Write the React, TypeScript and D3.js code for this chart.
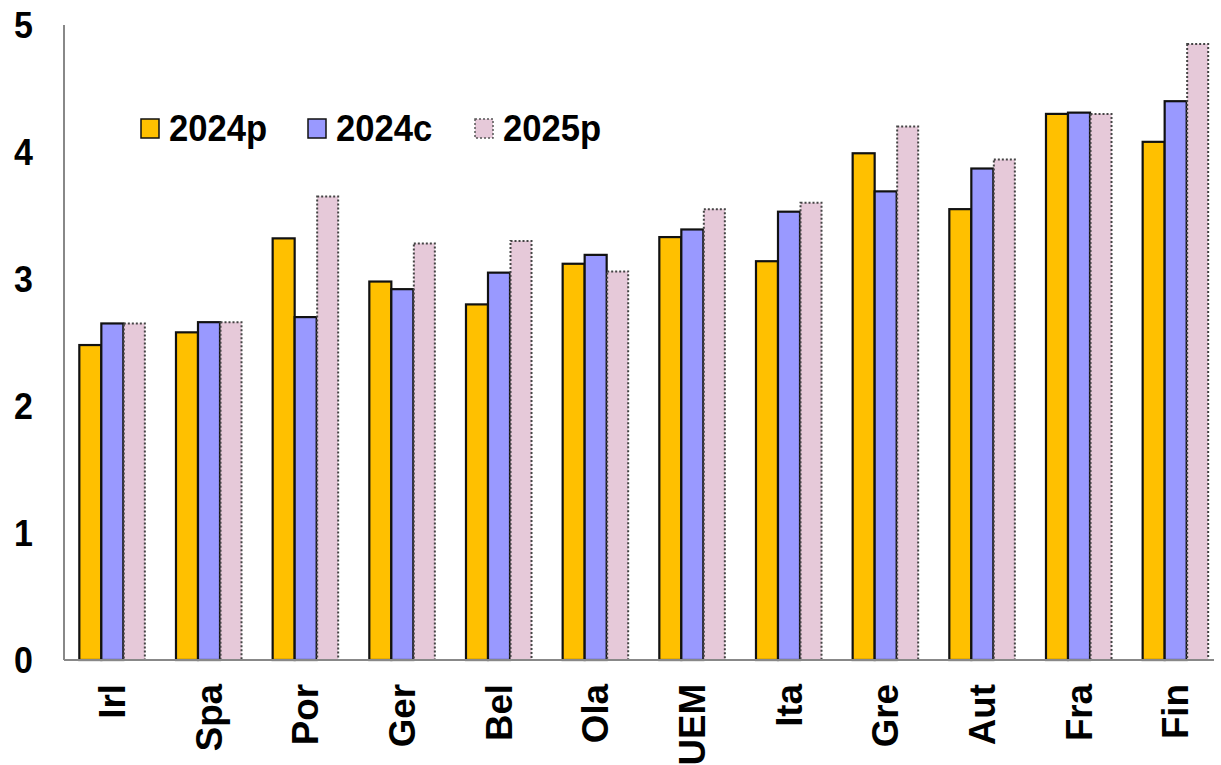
import React from "react";
import * as d3 from "d3";

const categories = ["Irl", "Spa", "Por", "Ger", "Bel", "Ola", "UEM", "Ita", "Gre", "Aut", "Fra", "Fin"];
const s2024p = [2.48, 2.58, 3.32, 2.98, 2.80, 3.12, 3.33, 3.14, 3.99, 3.55, 4.30, 4.08];
const s2024c = [2.65, 2.66, 2.70, 2.92, 3.05, 3.19, 3.39, 3.53, 3.69, 3.87, 4.31, 4.40];
const s2025p = [2.65, 2.66, 3.65, 3.28, 3.30, 3.06, 3.55, 3.60, 4.20, 3.94, 4.30, 4.85];
const seriesNames = ["2024p", "2024c", "2025p"];
const yTicks = [0, 1, 2, 3, 4, 5];

const fills = ["#FFC000", "#9999FF", "#E6C9D9"];

export default function App() {
  const W = 1221, H = 765;
  const x0 = 64, x1 = 1224, yBase = 660, yTop = 25;
  const series = [s2024p, s2024c, s2025p];
  const x = d3.scaleBand<string>().domain(categories).range([x0, x1]).paddingInner(0.317).paddingOuter(0.1585);
  const xi = d3.scaleBand<string>().domain(seriesNames).range([0, x.bandwidth()]);
  const y = d3.scaleLinear().domain([0, 5]).range([yBase, yTop]);
  const font = "'Liberation Sans', Arial, sans-serif";

  const legendX = [141, 308, 475];

  return (
    <svg width={W} height={H} style={{ position: "absolute", left: 0, top: 0 }}>
      <rect x={0} y={0} width={W} height={H} fill="#fff" />
      {series.map((vals, si) =>
        categories.map((c, ci) => {
          const bx = (x(c) as number) + (xi(seriesNames[si]) as number);
          const by = y(vals[ci]);
          const h = yBase - by;
          return si < 2 ? (
            <rect key={`${si}-${ci}`} x={bx} y={by} width={xi.bandwidth()} height={h}
              fill={fills[si]} stroke="#111" strokeWidth={2.2} />
          ) : (
            <rect key={`${si}-${ci}`} x={bx + 0.5} y={by} width={xi.bandwidth() - 1} height={h}
              fill={fills[si]} stroke="#444" strokeWidth={2} strokeDasharray="2,2" />
          );
        })
      )}
      <line x1={x0} x2={x0} y1={yTop} y2={yBase} stroke="#888" strokeWidth={2} />
      <line x1={x0} x2={1214} y1={yBase} y2={yBase} stroke="#888" strokeWidth={2} />
      {yTicks.map((t) => (
        <text key={t} transform={`translate(33,${y(t)}) scale(1,1.08)`} dy="0.35em" textAnchor="end" fontFamily={font}
          fontWeight="bold" fontSize={34} fill="#000">{t}</text>
      ))}
      {categories.map((c) => {
        const cx = (x(c) as number) + x.bandwidth() / 2;
        return (
          <text key={c} transform={`translate(${cx + 12.5},684) rotate(-90) scale(1.08,1.1)`} textAnchor="end"
            fontFamily={font} fontWeight="bold" fontSize={34} fill="#000">{c}</text>
        );
      })}
      {seriesNames.map((n, i) => (
        <g key={n}>
          <rect x={legendX[i]} y={119} width={18} height={19} fill={fills[i]}
            stroke={i < 2 ? "#111" : "#555"} strokeWidth={1.5}
            strokeDasharray={i < 2 ? undefined : "2,2"} />
          <text transform={`translate(${legendX[i] + 28},141) scale(1.05,1.1)`} fontFamily={font} fontWeight="bold" fontSize={33} fill="#000">{n}</text>
        </g>
      ))}
    </svg>
  );
}
